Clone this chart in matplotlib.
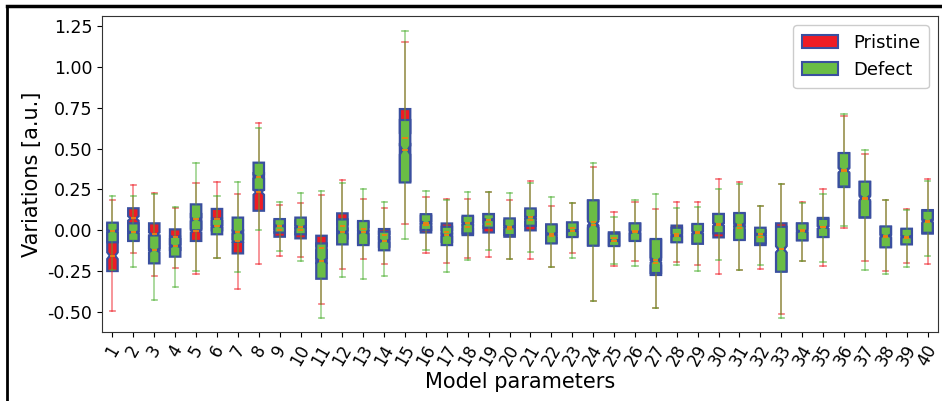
import numpy as np
import matplotlib
matplotlib.use("Agg")
import matplotlib.pyplot as plt
import matplotlib.ticker as mticker
from matplotlib.patches import Patch
from matplotlib.lines import Line2D

params = [str(i) for i in range(1, 41)]

# Pristine: whisker low, Q1, median, Q3, whisker high
p_low = [-0.494, -0.139, -0.278, -0.233, -0.267, -0.167, -0.361, -0.206, -0.157, -0.161,
         -0.453, -0.237, -0.176, -0.204, 0.038, -0.141, -0.202, -0.168, -0.166, -0.178,
         -0.178, -0.222, -0.141, -0.433, -0.218, -0.188, -0.478, -0.192, -0.210, -0.265,
         -0.243, -0.239, -0.510, -0.186, -0.218, 0.016, -0.188, -0.247, -0.200, -0.204]
p_q1 = [-0.249, -0.060, -0.120, -0.120, -0.065, 0.000, -0.141, 0.120, -0.039, -0.049,
        -0.200, -0.050, -0.080, -0.100, 0.300, -0.013, -0.070, -0.029, -0.013, -0.039,
        0.000, -0.075, -0.035, -0.090, -0.090, -0.060, -0.273, -0.070, -0.080, -0.043,
        -0.055, -0.090, -0.250, -0.060, -0.040, 0.265, 0.078, -0.100, -0.080, -0.020]
p_med = [-0.155, 0.073, -0.024, -0.041, -0.003, 0.069, -0.065, 0.234, 0.000, 0.002,
         -0.108, 0.024, 0.008, -0.031, 0.562, 0.032, -0.009, 0.020, 0.038, 0.010,
         0.061, -0.035, 0.014, 0.049, -0.047, -0.006, -0.198, -0.024, -0.010, 0.033,
         0.014, -0.039, -0.116, 0.002, 0.018, 0.365, 0.192, -0.039, -0.045, 0.053]
p_q3 = [0.040, 0.135, 0.043, 0.006, 0.100, 0.131, 0.000, 0.350, 0.060, 0.060,
        -0.033, 0.104, 0.050, 0.008, 0.742, 0.090, 0.042, 0.080, 0.100, 0.060,
        0.120, 0.030, 0.045, 0.180, -0.012, 0.040, -0.060, 0.029, 0.035, 0.100,
        0.100, 0.000, 0.043, 0.040, 0.076, 0.470, 0.295, 0.020, 0.006, 0.124]
p_high = [0.186, 0.280, 0.231, 0.139, 0.288, 0.298, 0.222, 0.659, 0.155, 0.169,
          0.214, 0.306, 0.190, 0.139, 1.150, 0.201, 0.193, 0.193, 0.236, 0.185,
          0.301, 0.147, 0.169, 0.386, 0.114, 0.176, 0.129, 0.173, 0.171, 0.312,
          0.298, 0.147, 0.284, 0.173, 0.253, 0.700, 0.465, 0.184, 0.131, 0.312]

# Defect: whisker low, Q1, median, Q3, whisker high
d_low = [-0.240, -0.222, -0.427, -0.345, -0.249, -0.167, -0.253, 0.002, -0.129, -0.186,
         -0.539, -0.288, -0.300, -0.280, -0.050, -0.121, -0.253, -0.180, -0.121, -0.178,
         -0.131, -0.222, -0.169, -0.433, -0.208, -0.218, -0.478, -0.210, -0.249, -0.182,
         -0.243, -0.210, -0.539, -0.186, -0.196, 0.029, -0.245, -0.267, -0.227, -0.159]
d_q1 = [-0.073, -0.065, -0.202, -0.161, 0.000, -0.024, -0.070, 0.247, -0.014, -0.024,
        -0.296, -0.086, -0.090, -0.122, 0.293, 0.002, -0.090, -0.019, 0.016, -0.029,
        0.028, -0.080, -0.041, -0.094, -0.096, -0.065, -0.261, -0.073, -0.082, -0.018,
        -0.059, -0.080, -0.253, -0.061, -0.041, 0.268, 0.080, -0.104, -0.086, -0.015]
d_med = [-0.005, -0.012, -0.122, -0.096, 0.067, 0.024, -0.012, 0.329, 0.027, 0.022,
         -0.186, -0.012, -0.012, -0.065, 0.491, 0.048, -0.029, 0.042, 0.065, 0.022,
         0.079, -0.022, -0.002, 0.035, -0.063, -0.012, -0.182, -0.033, -0.014, 0.037,
         0.033, -0.024, -0.116, -0.006, 0.018, 0.369, 0.200, -0.033, -0.039, 0.059]
d_q3 = [0.047, 0.043, -0.031, -0.040, 0.159, 0.070, 0.078, 0.414, 0.069, 0.078,
        -0.080, 0.067, 0.057, -0.008, 0.675, 0.099, 0.022, 0.089, 0.099, 0.073,
        0.134, 0.037, 0.049, 0.184, -0.020, 0.043, -0.053, 0.016, 0.039, 0.100,
        0.106, 0.016, 0.022, 0.043, 0.070, 0.473, 0.298, 0.024, 0.010, 0.120]
d_high = [0.208, 0.208, 0.224, 0.143, 0.414, 0.208, 0.294, 0.629, 0.171, 0.229,
          0.239, 0.288, 0.251, 0.171, 1.222, 0.242, 0.185, 0.236, 0.236, 0.230,
          0.291, 0.202, 0.169, 0.410, 0.084, 0.188, 0.220, 0.135, 0.145, 0.253,
          0.282, 0.147, 0.284, 0.170, 0.220, 0.710, 0.492, 0.184, 0.127, 0.302]

n_samples = 500  # used for the notch (confidence interval) size

series_names = ["Pristine", "Defect"]
fill_colors = ["#ee1c25", "#6abd45"]
whisker_colors = ["#ee1c25", "#4cb030"]
edge_color = "#3a4f9f"
median_color = "#f08010"


def make_stats(low, q1, med, q3, high):
    stats = []
    for lo, a, m, b, hi, lab in zip(low, q1, med, q3, high, params):
        ci = 1.57 * (b - a) / np.sqrt(n_samples)
        stats.append(dict(whislo=lo, q1=a, med=m, q3=b, whishi=hi,
                          cilo=m - ci, cihi=m + ci, fliers=[], label=lab))
    return stats


fig = plt.figure(figsize=(9.42, 4.01), dpi=100)
ax = fig.add_axes([0.1083, 0.172, 0.8875, 0.788])

positions = np.arange(1, len(params) + 1)
all_stats = [make_stats(p_low, p_q1, p_med, p_q3, p_high),
             make_stats(d_low, d_q1, d_med, d_q3, d_high)]

for stats, fc, wc in zip(all_stats, fill_colors, whisker_colors):
    ax.bxp(stats, positions=positions, widths=0.5, shownotches=True, patch_artist=True,
           showfliers=False,
           boxprops=dict(facecolor=fc, edgecolor=edge_color, linewidth=1.6),
           whiskerprops=dict(color=wc, alpha=0.55, linewidth=1.2),
           capprops=dict(color=wc, alpha=0.6, linewidth=1.2),
           medianprops=dict(color=median_color, linewidth=1.3))

ax.set_xlim(0.5, len(params) + 0.5)
ax.set_ylim(-0.622, 1.311)
ax.set_yticks(np.arange(-0.5, 1.26, 0.25))
ax.yaxis.set_major_formatter(mticker.FormatStrFormatter("%.2f"))
ax.set_xticks(positions)
ax.set_xticklabels(params, rotation=60, fontsize=12, ha="center", va="top")
ax.tick_params(axis="y", labelsize=12.5)
for s in ax.spines.values():
    s.set_color("#333333")
ax.set_xlabel("Model parameters", fontsize=15, labelpad=2)
ax.set_ylabel("Variations [a.u.]", fontsize=15)

handles = [Patch(facecolor=fc, edgecolor=edge_color, linewidth=1.5, label=n)
           for fc, n in zip(fill_colors, series_names)]
ax.legend(handles=handles, loc="upper right", fontsize=13, handlelength=2.0,
          borderpad=0.5, framealpha=1)

# outer figure frame (top and left edge visible in the reference)
fig.add_artist(Line2D([7 / 942, 1.0], [1 - 5.5 / 401, 1 - 5.5 / 401],
                      transform=fig.transFigure, color="black", linewidth=2.5))
fig.add_artist(Line2D([7 / 942, 7 / 942], [0.0, 1 - 5.5 / 401],
                      transform=fig.transFigure, color="black", linewidth=2.0))

fig.savefig("out.png", dpi=100)
